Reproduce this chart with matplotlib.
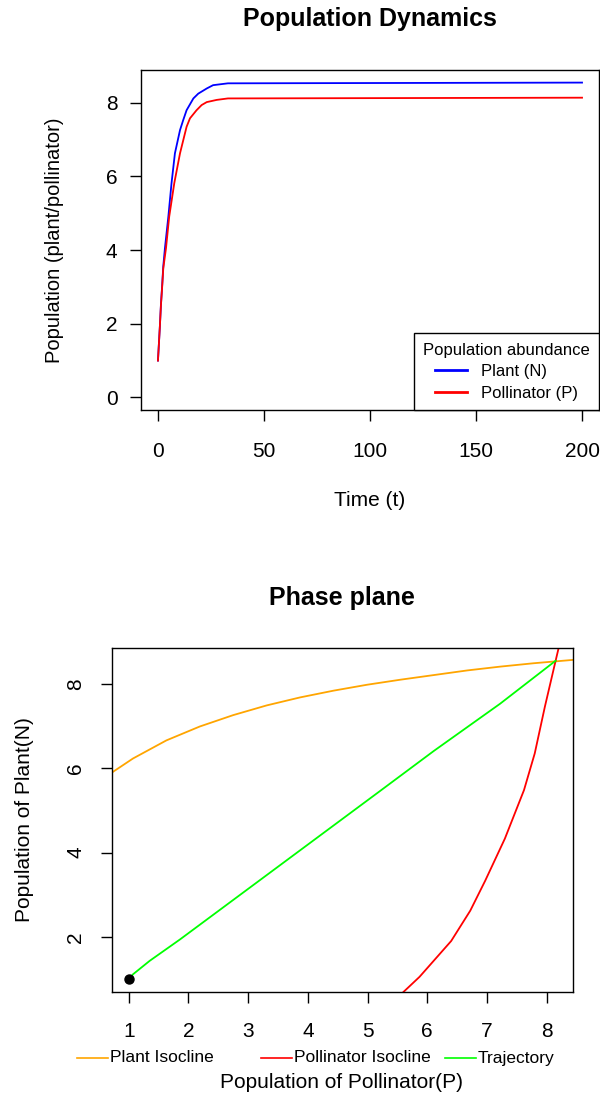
import matplotlib
matplotlib.use('Agg')
import matplotlib.pyplot as plt
from matplotlib.lines import Line2D

plt.rcParams['font.family'] = ['Liberation Sans', 'DejaVu Sans']

# time series (plant N, pollinator P)
t_plant = [0, 0.9, 1.4, 2.0, 2.5, 3.3, 4.9, 6.4, 8.0, 10.4, 11.9, 13.5, 16.7, 19, 23, 26, 33, 200]
n_plant = [1.0, 1.93, 2.52, 3.06, 3.56, 4.06, 4.91, 5.82, 6.63, 7.26, 7.53, 7.8, 8.12, 8.25, 8.39, 8.48, 8.53, 8.55]
t_poll = [0, 0.9, 1.4, 2.0, 2.5, 3.8, 5.3, 7.7, 10.4, 13.5, 15.1, 18.2, 20.6, 23, 27.7, 33, 200]
p_poll = [1.0, 1.93, 2.5, 3.02, 3.5, 4.06, 4.91, 5.82, 6.63, 7.35, 7.58, 7.8, 7.94, 8.02, 8.08, 8.12, 8.14]

# phase plane curves
plant_iso_p = [0.71, 1.07, 1.63, 2.19, 2.75, 3.31, 3.87, 4.43, 4.99, 5.55, 6.11, 6.67, 7.22, 7.78, 8.44]
plant_iso_n = [5.89, 6.23, 6.66, 6.99, 7.26, 7.49, 7.68, 7.84, 7.98, 8.10, 8.21, 8.32, 8.41, 8.49, 8.57]
poll_iso_p = [5.60, 5.87, 6.40, 6.72, 6.97, 7.30, 7.62, 7.80, 7.97, 8.15, 8.20]
poll_iso_n = [0.69, 1.05, 1.90, 2.62, 3.33, 4.33, 5.48, 6.35, 7.46, 8.55, 8.85]
traj_p = [1.0, 1.07, 1.35, 1.86, 5.2, 6.11, 7.22, 8.15]
traj_n = [1.0, 1.11, 1.43, 1.94, 5.45, 6.41, 7.53, 8.55]
start_point = (1.0, 1.0)

legend_labels = ['Plant Isocline', 'Pollinator Isocline', 'Trajectory']
legend_colors = ['orange', 'red', '#00ff00']

W, H = 600, 1095


def fx(px):
    return px / W


def fy(py):
    return 1 - py / H


fig = plt.figure(figsize=(W / 100, H / 100), dpi=100)

# --- Population dynamics ---
ax1 = fig.add_axes([fx(141), fy(410), (599 - 141) / W, (410 - 70) / H])
ax1.plot(t_plant, n_plant, color='blue', lw=1.3, label='Plant (N)')
ax1.plot(t_poll, p_poll, color='red', lw=1.3, label='Pollinator (P)')
ax1.set_xlim(-8, 208)
ax1.set_ylim(-0.342, 8.892)
ax1.set_xticks([0, 50, 100, 150, 200])
ax1.set_yticks([0, 2, 4, 6, 8])
ax1.tick_params(direction='out', length=8, width=1, labelsize=15)
ax1.tick_params(axis='x', pad=15)
ax1.tick_params(axis='y', pad=9)
leg = ax1.legend(title='Population abundance', loc='lower right', bbox_to_anchor=(1, 0),
                 borderaxespad=0, fancybox=False, edgecolor='black', framealpha=1,
                 fontsize=12, title_fontsize=12, handlelength=1.9, handletextpad=0.85,
                 labelspacing=0.4, borderpad=0.55)
leg.get_frame().set_linewidth(1)
for line in leg.get_lines():
    line.set_linewidth(2)

fig.text(fx(370), fy(19), 'Population Dynamics', ha='center', va='center',
         fontsize=18, fontweight='bold')
fig.text(fx(370), fy(500), 'Time (t)', ha='center', va='center', fontsize=15)
fig.text(fx(55), fy(240), 'Population (plant/pollinator)', ha='center', va='center',
         rotation=90, fontsize=14.5)

# --- Phase plane ---
ax2 = fig.add_axes([fx(111.7), fy(991.7), 461 / W, 343.7 / H])
ax2.plot(plant_iso_p, plant_iso_n, color=legend_colors[0], lw=1.3)
ax2.plot(poll_iso_p, poll_iso_n, color=legend_colors[1], lw=1.3)
ax2.plot(traj_p, traj_n, color=legend_colors[2], lw=1.3)
ax2.plot([start_point[0]], [start_point[1]], 'o', color='black', ms=6.5)
ax2.set_xlim(0.714, 8.436)
ax2.set_ylim(0.698, 8.852)
ax2.set_xticks(range(1, 9))
ax2.set_yticks([2, 4, 6, 8])
ax2.tick_params(direction='out', length=8, width=1, labelsize=15)
ax2.tick_params(axis='x', pad=14)
ax2.tick_params(axis='y', pad=11)
for lab in ax2.get_yticklabels():
    lab.set_rotation(90)
    lab.set_va('center')

fig.text(fx(342), fy(598), 'Phase plane', ha='center', va='center',
         fontsize=18, fontweight='bold')
fig.text(fx(342), fy(1082), 'Population of Pollinator(P)', ha='center', va='center',
         fontsize=15)
fig.text(fx(25), fy(820), 'Population of Plant(N)', ha='center', va='center',
         rotation=90, fontsize=15)

# horizontal legend under the phase plane, equally spaced entries like R's horiz legend
for i, (lab, col) in enumerate(zip(legend_labels, legend_colors)):
    x0 = 77 + i * 184
    fig.add_artist(Line2D([fx(x0), fx(x0 + 31)], [fy(1058), fy(1058)], color=col, lw=1.2))
    fig.text(fx(x0 + 33), fy(1058), lab, ha='left', va='center', fontsize=12.5)

for ax in (ax1, ax2):
    for sp in ax.spines.values():
        sp.set_linewidth(1)

fig.savefig('out.png', dpi=100)
